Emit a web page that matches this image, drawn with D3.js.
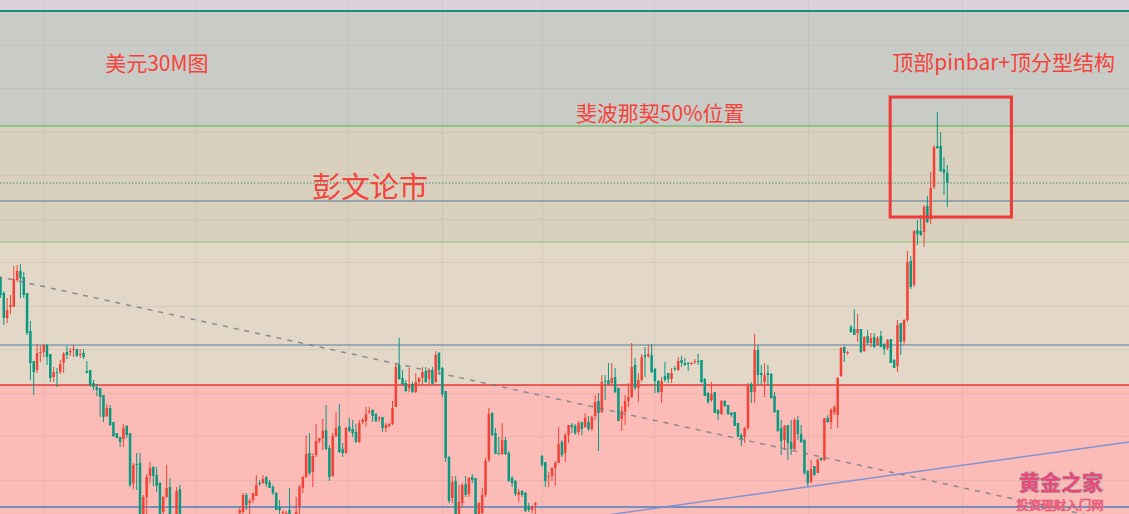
<!DOCTYPE html>
<html>
<head>
<meta charset="utf-8">
<script src="https://cdn.jsdelivr.net/npm/d3@7"></script>
<style>
  html, body { margin: 0; padding: 0; overflow: hidden; background: #e2d6c6; }
  svg { display: block; }
</style>
</head>
<body>
<div id="chart"></div>
<script>
// 30 min candles, price in chart points (null = bar hidden below the window)
const open = [
  236,221,196,207,207,234,243,237,221,183, 153,144,161,162,169,160,137,142,142,151,
  162,162,164,165,159,161,143,144,131,127, 126,119,98,106,92,81,77,75,88,81,
  31,50,51,-6,17,38,47,39,31,2, 17,27,null,-5,25,null,null,null,null,null,
  null,null,null,null,null,null,null,null,null,null, null,null,1,2,19,11,14,18,31,31,
  37,32,27,21,7,1,-1,4,null,-2, 7,26,37,61,42,59,73,76,84,66,
  38,78,88,65,61,87,85,82,72,92, 93,102,104,100,95,97,86,88,90,107,
  149,136,131,126,130,122,132,136,143,135, 144,132,161,146,123,57,16,33,-2,11,
  30,20,37,36,-2,1,19,54,101,81, 61,60,74,61,36,33,19,23,21,7,
  4,9,null,58,52,37,38,46,51,72, 61,79,89,88,82,92,87,92,85,98,
  113,102,133,134,131,137,126,95,102,113, 117,149,126,134,159,158,159,145,133,122,
  138,141,135,146,144,154,151,151,150,152, 153,154,135,121,114,122,104,100,113,109,
  101,102,91,79,77,86,130,122,164,141, 132,141,140,118,104,86,74,89,72,65,
  94,80,74,43,32,48,41,56,54,96, 92,101,99,138,167,161,187,185,181,185,
  163,178,171,177,169,178,170,166,175,154, 148,191,173,194,253,229,284,283,282,308,
  295,327,368,368,345,341
];
const high = [
  237,223,216,219,248,249,250,242,221,193, 153,170,168,170,170,160,147,146,154,162,
  168,166,169,165,165,165,153,144,134,130, 126,119,110,109,92,81,77,90,89,81,
  51,61,61,19,40,52,48,47,32,18, 49,36,null,27,29,null,null,null,null,null,
  null,null,null,null,null,null,null,null,null,null, null,null,6,21,21,15,21,39,34,39,
  38,34,29,22,14,4,3,26,null,17, 29,38,79,81,61,90,76,95,109,69,
  81,102,110,71,87,96,94,90,94,96, 107,107,105,101,98,97,91,91,113,151,
  176,144,134,146,132,141,137,147,147,146, 147,163,162,147,123,58,38,38,29,31,
  38,37,40,36,12,26,56,106,102,86, 77,91,77,63,38,34,25,24,22,11,
  9,12,null,59,52,42,47,53,87,74, 81,89,91,90,93,92,101,98,98,119,
  121,139,139,151,151,146,127,108,119,131, 171,156,141,160,167,169,170,146,134,137,
  152,141,146,148,157,158,156,152,152,155, 160,154,136,122,132,122,105,114,114,109,
  102,102,91,81,87,131,132,180,169,149, 151,149,141,122,104,94,89,89,94,96,
  98,89,75,44,54,48,56,57,96,99, 106,109,137,167,168,163,189,205,200,185,
  178,184,181,181,178,183,171,175,175,155, 194,191,195,263,258,284,294,299,309,318,
  342,369,402,382,357,349
];
const low = [
  216,189,191,200,207,232,216,216,179,134, 119,141,152,157,149,132,132,127,140,141,
  155,158,157,157,156,155,141,127,124,118, 97,92,97,88,77,76,67,67,76,27,
  25,24,-8,-10,-2,31,28,22,-6,-4, 16,-8,null,-8,-8,null,null,null,null,null,
  null,null,null,null,null,null,null,null,null,null, null,null,-2,-2,4,0,11,18,28,30,
  27,26,19,4,0,0,-3,-3,null,-4, -2,21,36,39,27,57,71,64,64,33,
  37,77,61,57,60,82,77,71,71,90, 87,100,92,92,92,82,82,87,89,107,
  134,129,122,122,121,121,129,129,131,129, 129,131,139,117,52,11,11,-4,-4,7,
  17,17,31,-4,-4,-2,17,52,78,60, 59,59,59,32,27,18,12,17,2,2,
  1,-2,null,47,27,27,33,28,51,57, 52,71,81,79,79,79,86,83,83,94,
  63,101,114,129,129,121,93,83,89,107, 116,124,112,132,137,156,141,121,121,111,
  132,131,131,143,143,147,148,143,149,150, 149,131,118,110,112,101,94,99,107,99,
  97,88,77,68,71,84,111,111,129,129, 117,129,115,101,82,59,64,54,59,64,
  74,71,39,28,31,38,41,53,53,91, 85,99,86,137,152,159,181,179,172,161,
  162,169,167,166,168,167,159,164,151,146, 142,159,169,192,225,227,269,278,267,291,
  290,325,365,342,319,307
];
const close = [
  219,196,204,209,235,243,236,219,181,151, 142,161,162,169,157,136,142,141,150,160,
  159,163,165,158,160,157,141,129,127,124, 117,97,106,89,78,76,72,86,79,29,
  49,49,-5,17,37,46,38,28,-2,17, 26,-3,null,23,-4,null,null,null,null,null,
  null,null,null,null,null,null,null,null,null,null, null,null,4,19,9,13,21,29,30,35,
  30,26,21,4,4,2,1,-1,null,2, 27,37,60,41,58,73,76,83,65,37,
  78,86,62,61,86,83,81,72,91,94, 100,103,98,93,96,86,89,90,106,147,
  135,130,123,129,122,132,136,142,132,143, 130,159,144,120,56,13,32,-2,12,29,
  19,36,34,-2,11,19,53,100,79,60, 60,74,60,33,31,20,22,19,3,4,
  7,11,null,49,33,38,46,51,70,59, 79,89,87,81,91,85,96,85,97,112,
  101,132,132,130,136,122,93,103,113,117, 147,126,134,157,157,160,142,133,122,133,
  134,135,141,145,153,151,149,150,151,153, 152,132,118,112,120,101,100,113,108,100,
  99,88,77,75,86,129,122,164,139,139, 139,139,116,102,83,73,88,71,65,94,
  80,72,41,31,45,39,54,54,96,92, 104,107,136,166,161,162,182,179,185,162,
  177,171,176,167,176,167,165,174,151,146, 189,172,194,252,227,283,280,279,307,292,
  326,367,366,343,341,331
];

// chart furniture (price points / bar index)
const fibLevels = [503, 388, 272, 129];
const markLevels = [331, 313, 169, 7];
const priceGrid = [34.5, 78, 121.5, 165, 208.5, 252, 295.5, 339, 382.5, 426, 469.5];
const timeGrid = [12.8, 58.8, 104.6, 132.9, 163, 196.7, 243.1, 289.4];
const trendDown = [[0, 236.9], [270, 40.5]];
const trendUp = [[195.5, 5], [339.7, 72]];
const boxBars = [267.8, 304.3];
const boxPrices = [297, 417];
const notes = [
  {text: "美元30M图", bar: 31.5, price: 452, size: 21},
  {text: "顶部pinbar+顶分型结构", bar: 268.4, price: 453, size: 21},
  {text: "斐波那契50%位置", bar: 173.2, price: 402, size: 21},
  {text: "彭文论市", bar: 93.8, price: 329, size: 29}
];

const width = 1129, height = 514;
const UP = "#f44336", DOWN = "#089981";

const svg = d3.select("#chart")
  .append("svg")
    .attr("width", width)
    .attr("height", height);

const x = d3.scaleLinear().domain([0, 285]).range([0.5, 947.3]);
const y = d3.scaleLinear().domain([0, 514]).range([height, 0]);

// background zones between the fib levels
let bandEdges = [514].concat(fibLevels).concat([0]);
let bandColors = ["#dcd2dc", "#c9ccc6", "#d9d1bd", "#e3d7c7", "#fbbcb8"];
svg.append("g")
  .selectAll("rect")
  .data(d3.range(bandEdges.length - 1))
  .join("rect")
    .attr("x", 0)
    .attr("width", width)
    .attr("y", i => y(bandEdges[i]))
    .attr("height", i => y(bandEdges[i + 1]) - y(bandEdges[i]))
    .attr("fill", i => bandColors[i]);

// grid
let grid = svg.append("g")
  .attr("stroke", "rgba(130,130,130,0.13)")
  .attr("stroke-width", 1);
grid.selectAll(".h")
  .data(priceGrid)
  .join("line")
    .attr("x1", 0).attr("x2", width)
    .attr("y1", d => Math.round(y(d)) + 0.5)
    .attr("y2", d => Math.round(y(d)) + 0.5);
grid.selectAll(".v")
  .data(timeGrid)
  .join("line")
    .attr("y1", 0).attr("y2", height)
    .attr("x1", d => Math.round(x(d)) + 0.5)
    .attr("x2", d => Math.round(x(d)) + 0.5);

// fib level lines
let fibColors = ["#1b8a7d", "#4caf50", "#7cc77a", "#e53935"];
let fibWidths = [2, 1.2, 1.2, 1.5];
svg.append("g")
  .selectAll("line")
  .data(fibLevels)
  .join("line")
    .attr("x1", 0).attr("x2", width)
    .attr("y1", d => y(d)).attr("y2", d => y(d))
    .attr("stroke", (d, i) => fibColors[i])
    .attr("stroke-width", (d, i) => fibWidths[i]);

// horizontal marks
let markColors = ["#1e7f66", "#52799a", "#557d9f", "#4a82c0"];
svg.append("g")
  .selectAll("line")
  .data(markLevels)
  .join("line")
    .attr("x1", 0).attr("x2", width)
    .attr("y1", d => y(d)).attr("y2", d => y(d))
    .attr("stroke", (d, i) => markColors[i])
    .attr("stroke-width", (d, i) => i === 3 ? 1.4 : 1.1)
    .attr("stroke-dasharray", (d, i) => i === 0 ? "1.2,2.1" : null);

// candles
let bars = d3.range(open.length)
  .filter(i => open[i] !== null)
  .map(i => ({i: i, o: open[i], h: high[i], l: low[i], c: close[i]}));

let candles = svg.append("g")
  .selectAll("g")
  .data(bars)
  .join("g")
    .attr("fill", d => d.c >= d.o ? UP : DOWN);

candles.append("rect")
  .attr("x", d => x(d.i) - 0.5)
  .attr("width", 1)
  .attr("y", d => y(d.h))
  .attr("height", d => y(d.l) - y(d.h));

candles.append("rect")
  .attr("x", d => x(d.i) - 1.25)
  .attr("width", 2.5)
  .attr("y", d => y(Math.max(d.o, d.c)))
  .attr("height", d => Math.max(1, Math.abs(y(d.o) - y(d.c))));

// trend lines, extended across the window
function extend(pts, i0, i1) {
  let slope = (pts[1][1] - pts[0][1]) / (pts[1][0] - pts[0][0]);
  return [[i0, pts[0][1] + slope * (i0 - pts[0][0])],
          [i1, pts[0][1] + slope * (i1 - pts[0][0])]];
}
let line = d3.line().x(d => x(d[0])).y(d => y(d[1]));

svg.append("path")
  .datum(extend(trendDown, -1, 345))
  .attr("fill", "none")
  .attr("stroke", "rgba(125,125,135,0.85)")
  .attr("stroke-width", 1.5)
  .attr("stroke-dasharray", "5,6")
  .attr("d", line);

svg.append("path")
  .datum(extend(trendUp, 170, 345))
  .attr("fill", "none")
  .attr("stroke", "rgba(110,140,215,0.85)")
  .attr("stroke-width", 1.4)
  .attr("d", line);

// highlight box
svg.append("rect")
  .attr("x", x(boxBars[0]))
  .attr("y", y(boxPrices[1]))
  .attr("width", x(boxBars[1]) - x(boxBars[0]))
  .attr("height", y(boxPrices[0]) - y(boxPrices[1]))
  .attr("fill", "none")
  .attr("stroke", "#f03a3a")
  .attr("stroke-width", 3);

// notes
svg.append("g")
  .selectAll("text")
  .data(notes)
  .join("text")
    .attr("x", d => x(d.bar))
    .attr("y", d => y(d.price))
    .attr("dominant-baseline", "central")
    .attr("font-family", "'Noto Sans CJK SC', 'Noto Sans', sans-serif")
    .attr("font-size", d => d.size)
    .attr("fill", "#f4433c")
    .text(d => d.text);

// site watermark
let wm = svg.append("g")
  .attr("font-family", "'Noto Sans CJK SC', sans-serif")
  .attr("text-anchor", "middle")
  .attr("dominant-baseline", "central");
wm.append("text")
  .attr("x", 1061).attr("y", 481)
  .attr("font-size", 21)
  .attr("font-weight", "bold")
  .attr("fill", "#e9497a")
  .attr("stroke", "rgba(150,150,150,0.9)")
  .attr("stroke-width", 1.2)
  .attr("paint-order", "stroke")
  .text("黄金之家");
wm.append("text")
  .attr("x", 1060).attr("y", 504)
  .attr("font-size", 12.5)
  .attr("fill", "#c88a98")
  .attr("stroke", "#ee5070")
  .attr("stroke-width", 0.6)
  .text("投资理财入门网");
</script>
</body>
</html>
